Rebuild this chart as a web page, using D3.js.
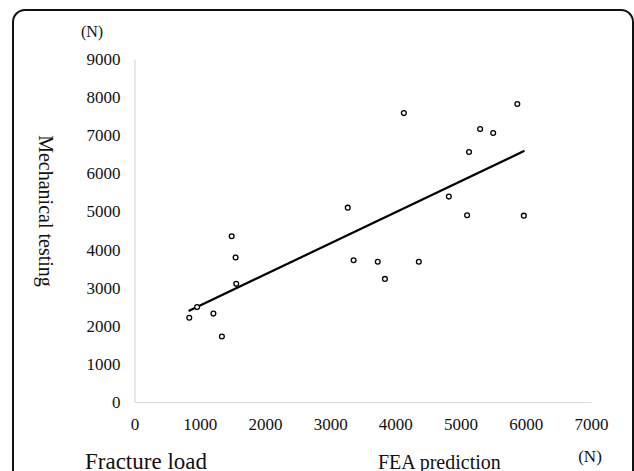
<!DOCTYPE html>
<html><head><meta charset="utf-8">
<script src="https://cdn.jsdelivr.net/npm/d3@7"></script>
<style>html,body{margin:0;padding:0;background:#fff;}svg{display:block;}</style>
</head><body>
<svg id="c" width="634" height="471"></svg>
<script>
// Data
const feaPrediction = [840, 960, 1210, 1340, 1490, 1550, 1560, 3270, 3360, 3730, 3840, 4130, 4360, 4820, 5100, 5130, 5300, 5500, 5870, 5970];
const mechanicalTesting = [2210, 2490, 2320, 1720, 4350, 3790, 3100, 5100, 3720, 3680, 3230, 7580, 3680, 5390, 4900, 6560, 7160, 7060, 7820, 4890];
const trendX = [830, 5980];
const trendY = [2390, 6590];
const xTicks = [0, 1000, 2000, 3000, 4000, 5000, 6000, 7000];
const yTicks = [0, 1000, 2000, 3000, 4000, 5000, 6000, 7000, 8000, 9000];

const svg = d3.select("#c");
const font = "'Liberation Serif','Times New Roman',serif";

// frame
svg.append("rect").attr("x", 13).attr("y", 10).attr("width", 620).attr("height", 520)
  .attr("rx", 12).attr("ry", 12).attr("fill", "none").attr("stroke", "#111").attr("stroke-width", 2);

const x = d3.scaleLinear().domain([0, 7000]).range([134.5, 591]);
const y = d3.scaleLinear().domain([0, 9000]).range([402, 59]);

// axes
const xAxis = svg.append("g").attr("transform", `translate(0,${y(0)})`)
  .call(d3.axisBottom(x).tickValues(xTicks).tickSize(0).tickPadding(16).tickFormat(d3.format("d")));
const yAxis = svg.append("g").attr("transform", `translate(${x(0)},0)`)
  .call(d3.axisLeft(y).tickValues(yTicks).tickSize(0).tickPadding(14).tickFormat(d3.format("d")));
[xAxis, yAxis].forEach(g => {
  g.attr("font-family", font);
  g.select(".domain").attr("stroke", "#d9d9d9").attr("stroke-width", 1.2);
  g.selectAll("text").attr("font-family", font).attr("font-size", 17).attr("fill", "#111");
});

// trend line
svg.append("line")
  .attr("x1", x(trendX[0])).attr("y1", y(trendY[0]))
  .attr("x2", x(trendX[1])).attr("y2", y(trendY[1]))
  .attr("stroke", "#000").attr("stroke-width", 2.2);

// points
svg.append("g").selectAll("circle").data(feaPrediction.map((v, i) => [v, mechanicalTesting[i]]))
  .join("circle")
  .attr("cx", d => x(d[0])).attr("cy", d => y(d[1])).attr("r", 2.4)
  .attr("fill", "#fff").attr("stroke", "#000").attr("stroke-width", 1.3);

// labels
svg.append("text").attr("x", 92).attr("y", 37).attr("text-anchor", "middle")
  .attr("font-family", font).attr("font-size", 16).attr("fill", "#111").text("(N)");
svg.append("text").attr("x", 590).attr("y", 462).attr("text-anchor", "middle")
  .attr("font-family", font).attr("font-size", 17).attr("fill", "#111").text("(N)");
svg.append("text").attr("transform", "translate(39,211) rotate(90)").attr("text-anchor", "middle")
  .attr("font-family", font).attr("font-size", 20).attr("fill", "#111").text("Mechanical testing");
svg.append("text").attr("x", 378).attr("y", 469)
  .attr("font-family", font).attr("font-size", 20).attr("fill", "#111").text("FEA prediction");
svg.append("text").attr("x", 85).attr("y", 469)
  .attr("font-family", font).attr("font-size", 23).attr("fill", "#111").text("Fracture load");
</script>
</body></html>
